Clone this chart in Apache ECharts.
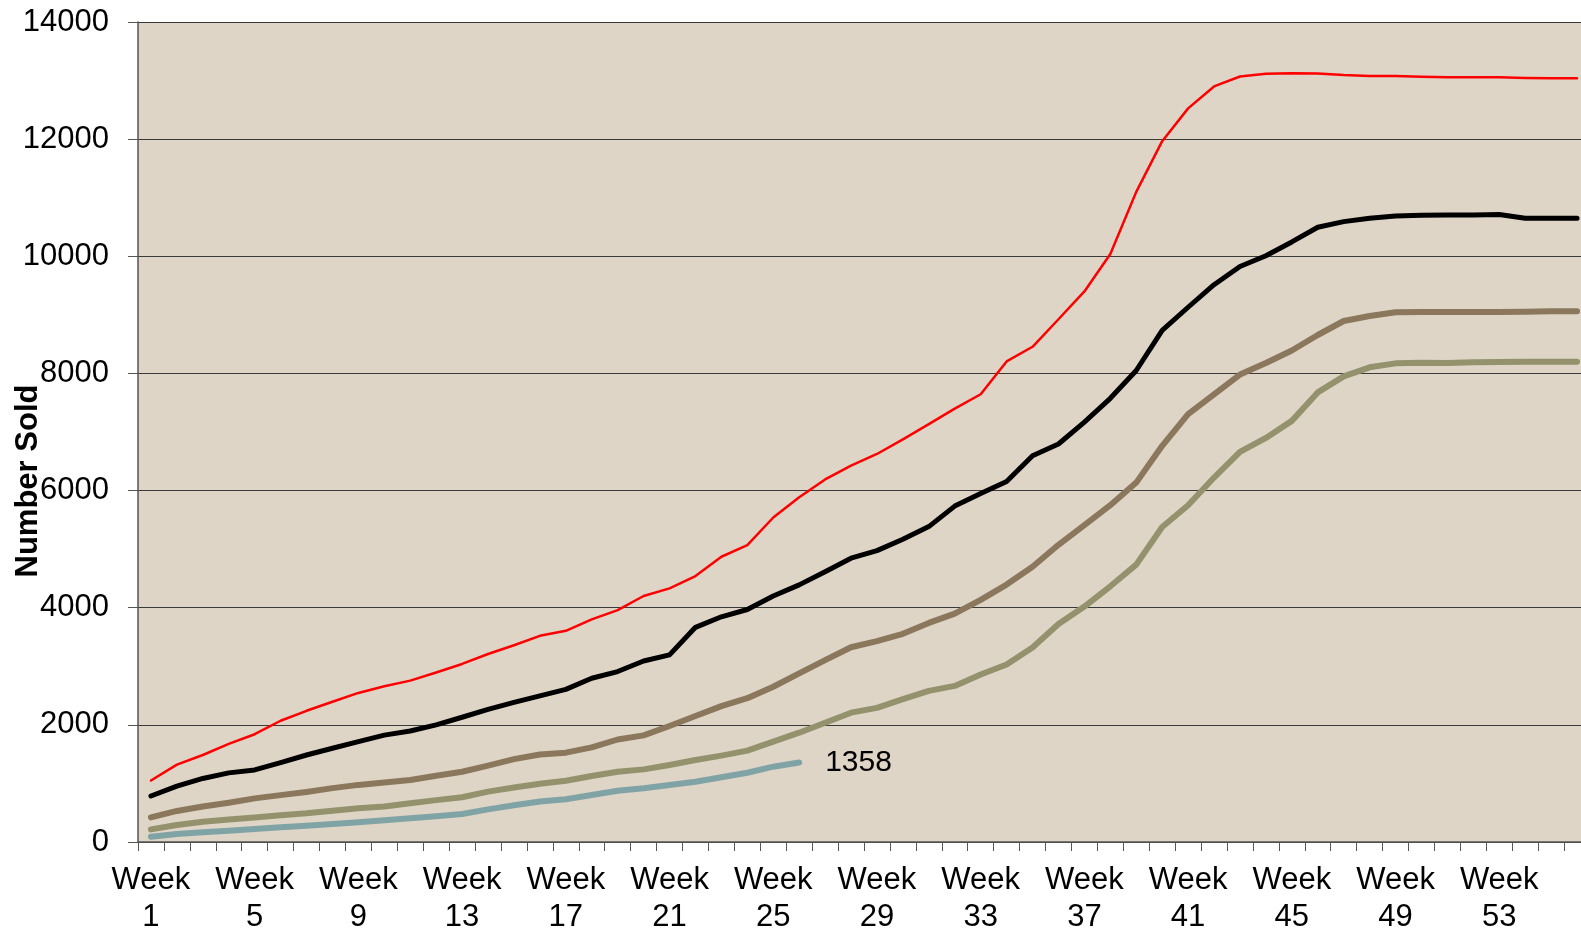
<!DOCTYPE html>
<html>
<head>
<meta charset="utf-8">
<title>Number Sold</title>
<script src="https://cdn.jsdelivr.net/npm/echarts@6/dist/echarts.min.js"></script>
<style>
  html, body { margin: 0; padding: 0; background: #fff; }
  #chart { width: 1581px; height: 930px; }
</style>
</head>
<body>
<div id="chart"></div>
<script>
// weeks 1..56
const weeks = [];
for (let w = 1; w <= 56; w++) weeks.push('Week\n' + w);

const redSeries = [1050, 1320, 1485, 1675, 1840, 2070, 2240, 2395, 2545, 2660, 2755, 2895, 3040, 3210,
  3360, 3520, 3605, 3800, 3960, 4200, 4330, 4540, 4870, 5070, 5540, 5885, 6190, 6425, 6625, 6875,
  7135, 7400, 7645, 8205, 8455, 8925, 9400, 10040, 11100, 11965, 12525, 12900, 13070, 13115, 13125,
  13120, 13095, 13080, 13078, 13067, 13055, 13055, 13055, 13045, 13040, 13040];

const blackSeries = [785, 955, 1085, 1180, 1230, 1355, 1485, 1600, 1715, 1825, 1895, 2000, 2130, 2265,
  2385, 2495, 2605, 2795, 2910, 3090, 3195, 3665, 3845, 3970, 4200, 4390, 4615, 4845, 4975, 5170,
  5385, 5735, 5950, 6155, 6595, 6795, 7170, 7575, 8050, 8735, 9130, 9515, 9825, 10010, 10245,
  10495, 10592, 10648, 10688, 10700, 10705, 10705, 10715, 10650, 10648, 10648];

const brownSeries = [420, 530, 605, 670, 745, 800, 855, 920, 975, 1015, 1060, 1130, 1200, 1305,
  1415, 1495, 1525, 1615, 1750, 1820, 1980, 2150, 2320, 2455, 2650, 2880, 3105, 3325, 3430, 3555,
  3740, 3900, 4135, 4395, 4700, 5074, 5412, 5750, 6136, 6764, 7304, 7642, 7980, 8178, 8392,
  8656, 8895, 8980, 9043, 9049, 9049, 9049, 9050, 9055, 9060, 9060];

const oliveSeries = [215, 290, 345, 385, 420, 455, 490, 535, 575, 605, 660, 715, 765, 860,
  930, 995, 1047, 1127, 1200, 1240, 1315, 1400, 1475, 1560, 1713, 1866, 2037, 2208, 2290, 2440,
  2580, 2665, 2860, 3030, 3320, 3722, 4020, 4366, 4736, 5378, 5750, 6223, 6662, 6899, 7190,
  7676, 7950, 8104, 8172, 8183, 8180, 8190, 8195, 8200, 8200, 8200];

// current year, up to week 26
const tealSeries = [90, 137, 165, 193, 222, 250, 279, 307, 336, 370, 404, 438, 478, 557,
  626, 690, 729, 802, 876, 917, 973, 1030, 1105, 1183, 1286, 1358];

const yTicks = { min: 0, max: 14000, interval: 2000 };

const font = '"Liberation Sans", Arial, sans-serif';
const chart = echarts.init(document.getElementById('chart'));

function line(data, color, width, z) {
  return {
    type: 'line',
    data: data,
    showSymbol: false,
    symbol: 'none',
    z: z,
    lineStyle: { color: color, width: width, join: 'round', cap: 'round' },
    itemStyle: { color: color }
  };
}

const teal = line(tealSeries, '#80a4a6', 6, 3);
teal.endLabel = {
  show: true,
  formatter: '{c}',
  distance: 26,
  color: '#000',
  fontSize: 30,
  fontFamily: font
};

chart.setOption({
  animation: false,
  grid: {
    left: 138,
    top: 22,
    right: -9,
    bottom: 88,
    containLabel: false,
    outerBoundsMode: 'none',
    show: true,
    backgroundColor: '#ded5c7',
    borderWidth: 0
  },
  graphic: [{
    type: 'text',
    x: 28,
    y: 481,
    rotation: Math.PI / 2,
    style: {
      text: 'Number Sold',
      font: 'bold 31px ' + font,
      fill: '#000',
      textAlign: 'center',
      textVerticalAlign: 'middle'
    }
  }],
  xAxis: {
    type: 'category',
    data: weeks,
    boundaryGap: true,
    axisLine: { lineStyle: { color: '#555', width: 1.5 } },
    axisTick: { show: true, interval: 0, length: 9, lineStyle: { color: '#555' } },
    axisLabel: {
      interval: 3,
      margin: 20,
      color: '#000',
      fontSize: 31,
      lineHeight: 37,
      fontFamily: font
    },
    splitLine: { show: false }
  },
  yAxis: {
    type: 'value',
    min: yTicks.min,
    max: yTicks.max,
    interval: yTicks.interval,
    axisLine: { show: true, lineStyle: { color: '#555', width: 1.5 } },
    axisTick: { show: true, length: 10, lineStyle: { color: '#555' } },
    axisLabel: {
      margin: 29,
      color: '#000',
      fontSize: 31,
      fontFamily: font,
      formatter: function (v) { return String(v); }
    },
    splitLine: { show: true, lineStyle: { color: '#3a3a3a', width: 1 } }
  },
  series: [
    line(oliveSeries, '#94926c', 6, 2),
    line(brownSeries, '#8b775c', 6, 2),
    teal,
    line(blackSeries, '#000000', 5, 4),
    line(redSeries, '#ff0000', 2.5, 5)
  ]
});
</script>
</body>
</html>
